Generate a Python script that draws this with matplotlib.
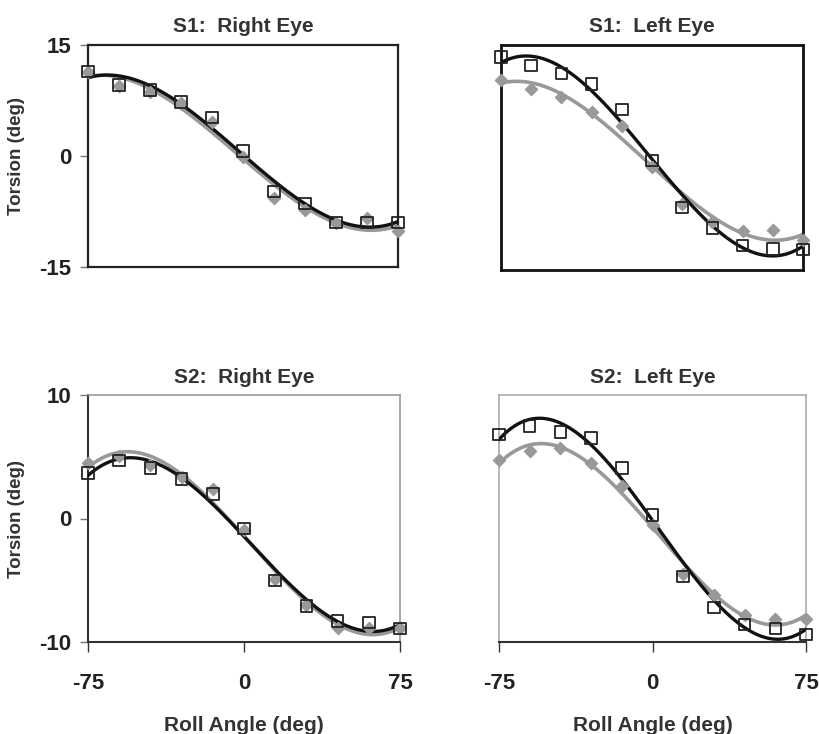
import numpy as np
import matplotlib.pyplot as plt

plt.rcParams['font.family'] = ['Liberation Sans', 'DejaVu Sans']
plt.rcParams['font.weight'] = 'bold'

roll = [-75, -60, -45, -30, -15, 0, 15, 30, 45, 60, 75]

titles = ['S1:  Right Eye', 'S1:  Left Eye', 'S2:  Right Eye', 'S2:  Left Eye']

# open squares (black fit) and grey diamonds (grey fit) per panel
squares = [
    [11.4, 9.6, 8.9, 7.3, 5.2, 0.7, -4.8, -6.4, -9.0, -9.0, -9.0],
    [13.4, 12.3, 11.2, 9.8, 6.4, -0.4, -6.7, -9.4, -11.7, -12.2, -12.3],
    [3.7, 4.7, 4.1, 3.2, 2.0, -0.8, -5.0, -7.1, -8.3, -8.4, -8.9],
    [6.8, 7.5, 7.0, 6.5, 4.1, 0.3, -4.7, -7.2, -8.6, -8.9, -9.4],
]
diamonds = [
    [11.4, 9.5, 8.7, 7.1, 4.6, -0.1, -5.7, -7.3, -9.0, -8.4, -10.2],
    [10.4, 9.1, 8.1, 6.1, 4.2, -1.2, -6.2, -8.6, -9.8, -9.6, -11.0],
    [4.5, 5.1, 4.3, 3.4, 2.4, -0.9, -4.9, -7.0, -8.9, -8.9, -8.9],
    [4.7, 5.5, 5.7, 4.5, 2.6, -0.5, -4.5, -6.2, -7.8, -8.1, -8.1],
]

ylims = [(-15, 15), (-15, 15), (-10, 10), (-10, 10)]
yticks = [[-15, 0, 15], [-15, 0, 15], [-10, 0, 10], [-10, 0, 10]]

# axes rectangles in pixels (W=819, H=734)
W, H = 819, 734
boxes = [(88, 45, 398, 267), (501, 45, 803, 270), (88, 395, 400, 642), (499, 395, 806, 642)]
frame = [('#222222', 1.6), ('#111111', 2.0), ('#999999', 1.2), ('#aaaaaa', 1.2)]

fig = plt.figure(figsize=(8.19, 7.34), dpi=100)
xs = np.linspace(-75, 75, 200)

for i in range(4):
    l, t, r, b = boxes[i]
    ax = fig.add_axes([l / W, 1 - b / H, (r - l) / W, (b - t) / H])
    ax.set_xlim(-75, 75)
    ax.set_ylim(*ylims[i])

    cg = np.polyfit(roll, diamonds[i], 3)
    cs = np.polyfit(roll, squares[i], 3)
    ax.plot(xs, np.polyval(cg, xs), color='#999999', lw=2.6, zorder=2)
    ax.plot(xs, np.polyval(cs, xs), color='#111111', lw=2.4, zorder=3)
    ax.scatter(roll, diamonds[i], marker='D', s=38, color='#999999', zorder=4, clip_on=False)
    ax.scatter(roll, squares[i], marker='s', s=68, facecolors='none',
               edgecolors='#222222', linewidths=1.3, zorder=5, clip_on=False)

    ax.set_title(titles[i], fontsize=15, fontweight='bold', color='#333333', pad=9)

    col, lw = frame[i]
    for sp in ax.spines.values():
        sp.set_color(col)
        sp.set_linewidth(lw)
    if i >= 2:
        ax.spines['bottom'].set_color('#333333')
        ax.spines['bottom'].set_linewidth(1.5)
    if i == 2:
        ax.spines['left'].set_color('#333333')
        ax.spines['left'].set_linewidth(1.5)

    if i % 2 == 0:
        ax.set_yticks(yticks[i])
        ax.set_yticklabels([str(v) for v in yticks[i]], fontsize=16, fontweight='bold', color='#222222')
        ax.tick_params(axis='y', length=6, width=1, color='#777777', pad=6)
        ax.set_ylabel('Torsion (deg)', fontsize=13.5, fontweight='bold', color='#333333', labelpad=10)
    else:
        ax.set_yticks([])

    if i >= 2:
        ax.set_xticks([-75, 0, 75])
        ax.set_xticklabels(['-75', '0', '75'], fontsize=16, fontweight='bold', color='#222222')
        ax.tick_params(axis='x', length=7, width=1, color='#333333', pad=15)
        ax.set_xlabel('Roll Angle (deg)', fontsize=15, fontweight='bold', color='#333333', labelpad=16)
    else:
        ax.set_xticks([])

fig.savefig('out.png', dpi=100, facecolor='white')
